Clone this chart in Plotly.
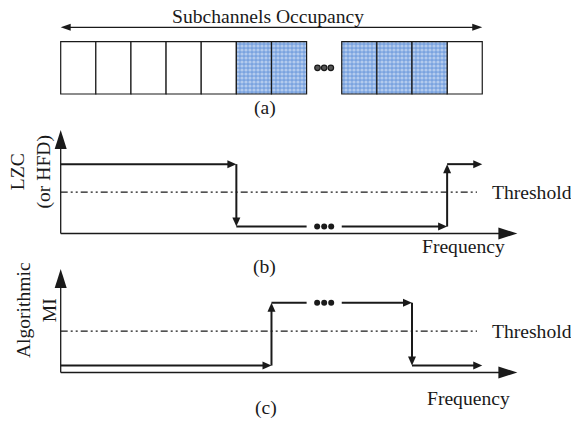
import plotly.graph_objects as go

# ---------------- data ----------------
# (a) subchannel occupancy: 0 = free, 1 = occupied, None = elided slots (•••)
occupancy = [0, 0, 0, 0, 0, 1, 1, None, 1, 1, 1, 0]
title_a = "Subchannels Occupancy"

# (b) LZC (or HFD) step curve, frequency in subchannel units
lzc_freq = [0, 5, 11, 12]
lzc_level = [0.67, 0.067, 0.67]

# (c) Algorithmic MI step curve
mi_freq = [0, 6, 10, 12]
mi_level = [0.067, 0.675, 0.067]

threshold = 0.40
threshold_end = 11.85
freq_axis_end = 13.0
level_axis_end = 1.0
ellipsis_slot = [7, 8]          # elided frequency span

# ---------------- layout constants ----------------
W, H = 571, 423
X0_PX, PX_PER_UNIT = 60.7, 35.13
PANELS = {  # yaxis: (pixel of value 0, pixels per unit)
    "y": (94.0, 52.3),
    "y2": (233.5, 103.5),
    "y3": (372.5, 103.5),
}
FONT = "Liberation Serif, Times New Roman, serif"
INK = "#1a1a1a"
FS = 19.6


def yrange(base, scale):
    return [(base - H) / scale, base / scale]


fig = go.Figure()
shapes = []
annotations = []


def arrow_head(tx, ty, direction, length, width, yref):
    sy = PANELS[yref][1]
    sx = PX_PER_UNIT
    if direction in ("right", "left"):
        s = 1 if direction == "right" else -1
        bx = tx - s * length / sx
        p = [(tx, ty), (bx, ty + width / 2 / sy), (bx, ty - width / 2 / sy)]
    else:
        s = 1 if direction == "up" else -1
        by = ty - s * length / sy
        p = [(tx, ty), (tx + width / 2 / sx, by), (tx - width / 2 / sx, by)]
    path = "M {} {} L {} {} L {} {} Z".format(*[c for pt in p for c in pt])
    shapes.append(dict(type="path", path=path, xref="x", yref=yref,
                       fillcolor=INK, line=dict(width=0), layer="above"))


def seg(xs, ys, yref, width, dash=None, color=INK):
    fig.add_trace(go.Scatter(x=xs, y=ys, yaxis=yref, mode="lines",
                             line=dict(color=color, width=width, dash=dash),
                             hoverinfo="skip", showlegend=False))


def text(x, y, s, yref, size=FS, xanchor="center", angle=0):
    annotations.append(dict(x=x, y=y, xref="x", yref=yref, text=s,
                            showarrow=False, xanchor=xanchor, yanchor="middle",
                            textangle=angle,
                            font=dict(family=FONT, size=size, color=INK)))


# ---------------- panel (a) ----------------
free_x = [i + 0.5 for i, v in enumerate(occupancy) if v == 0]
occ_x = [i + 0.5 for i, v in enumerate(occupancy) if v == 1]
fig.add_trace(go.Bar(x=free_x, y=[1] * len(free_x), base=0, width=1,
                     yaxis="y", marker=dict(color="white", line=dict(color=INK, width=1.2)),
                     hoverinfo="skip", showlegend=False))
fig.add_trace(go.Bar(x=occ_x, y=[1] * len(occ_x), base=0, width=1,
                     yaxis="y",
                     marker=dict(color="#7fa7e2",
                                 pattern=dict(shape=".", fgcolor="#eef3fb", bgcolor="#7aa3df",
                                              size=4, solidity=0.5),
                                 line=dict(color=INK, width=1.2)),
                     hoverinfo="skip", showlegend=False))
gap_c = (ellipsis_slot[0] + ellipsis_slot[1]) / 2
fig.add_trace(go.Scatter(x=[gap_c - 0.19, gap_c, gap_c + 0.19], y=[0.5] * 3, yaxis="y",
                         mode="markers",
                         marker=dict(size=5.5, color="#555", line=dict(color=INK, width=1.2)),
                         hoverinfo="skip", showlegend=False))
# double-headed arrow over the band
span = [0, len(occupancy)]
seg([span[0] + 9 / PX_PER_UNIT, span[1] - 9 / PX_PER_UNIT], [1.275, 1.275], "y", 1.3)
arrow_head(span[0], 1.275, "left", 10, 7, "y")
arrow_head(span[1], 1.275, "right", 10, 7, "y")
text(5.9, 1.478, title_a, "y")
text(5.82, -0.268, "(a)", "y")


# ---------------- panels (b), (c) ----------------
def step_panel(freq, level, yref, ylabel, lab_xy, freq_xy, tag_xy):
    # axes with arrows
    seg([0, 0], [0, level_axis_end - 15 / PANELS[yref][1]], yref, 1.3)
    arrow_head(0, level_axis_end, "up", 19, 12, yref)
    seg([0, freq_axis_end - 15 / PX_PER_UNIT], [0, 0], yref, 1.3)
    arrow_head(freq_axis_end, 0, "right", 19, 12, yref)
    # threshold
    seg([0, threshold_end], [threshold, threshold], yref, 1.4,
        dash="7px,3px,2px,3px,2px,3px")
    text(12.22, threshold, "Threshold", yref, xanchor="left")
    # steps
    L = 8 / PX_PER_UNIT
    for i, lv in enumerate(level):
        x_a, x_b = freq[i], freq[i + 1]
        if x_a < ellipsis_slot[0] and x_b > ellipsis_slot[1]:
            seg([x_a, ellipsis_slot[0], None, ellipsis_slot[1], x_b - L],
                [lv, lv, None, lv, lv], yref, 2)
            fig.add_trace(go.Scatter(x=[gap_c - 0.2, gap_c, gap_c + 0.2], y=[lv] * 3,
                                     yaxis=yref, mode="markers",
                                     marker=dict(size=6, color=INK),
                                     hoverinfo="skip", showlegend=False))
        else:
            seg([x_a, x_b - L], [lv, lv], yref, 2)
        arrow_head(x_b, lv, "right", 9, 8, yref)
        if i + 1 < len(level):
            nxt = level[i + 1]
            d = "down" if nxt < lv else "up"
            off = 8 / PANELS[yref][1] * (1 if d == "down" else -1)
            seg([x_b, x_b], [lv, nxt + off], yref, 2)
            arrow_head(x_b, nxt, d, 9, 8, yref)
    text(lab_xy[0], lab_xy[1], ylabel, yref, angle=-90)
    text(freq_xy[0], freq_xy[1], "Frequency", yref)
    text(tag_xy[0], tag_xy[1], tag_xy[2], yref)


step_panel(lzc_freq, lzc_level, "y2", "LZC<br>(or HFD)",
           (-0.86, 0.594), (11.48, -0.128), (5.79, -0.321, "(b)"))
step_panel(mi_freq, mi_level, "y3", "Algorithmic<br>MI",
           (-0.70, 0.604), (11.62, -0.249), (5.84, -0.346, "(c)"))

ax_off = dict(visible=False, fixedrange=True)
fig.update_layout(
    width=W, height=H, margin=dict(l=0, r=0, t=0, b=0),
    paper_bgcolor="white", plot_bgcolor="white",
    xaxis=dict(range=[-X0_PX / PX_PER_UNIT, (W - X0_PX) / PX_PER_UNIT], domain=[0, 1], **ax_off),
    yaxis=dict(range=yrange(*PANELS["y"]), domain=[0, 1], **ax_off),
    yaxis2=dict(range=yrange(*PANELS["y2"]), overlaying="y", anchor="x", **ax_off),
    yaxis3=dict(range=yrange(*PANELS["y3"]), overlaying="y", anchor="x", **ax_off),
    shapes=shapes, annotations=annotations, showlegend=False, barmode="overlay",
)
fig.write_html("out.html")
